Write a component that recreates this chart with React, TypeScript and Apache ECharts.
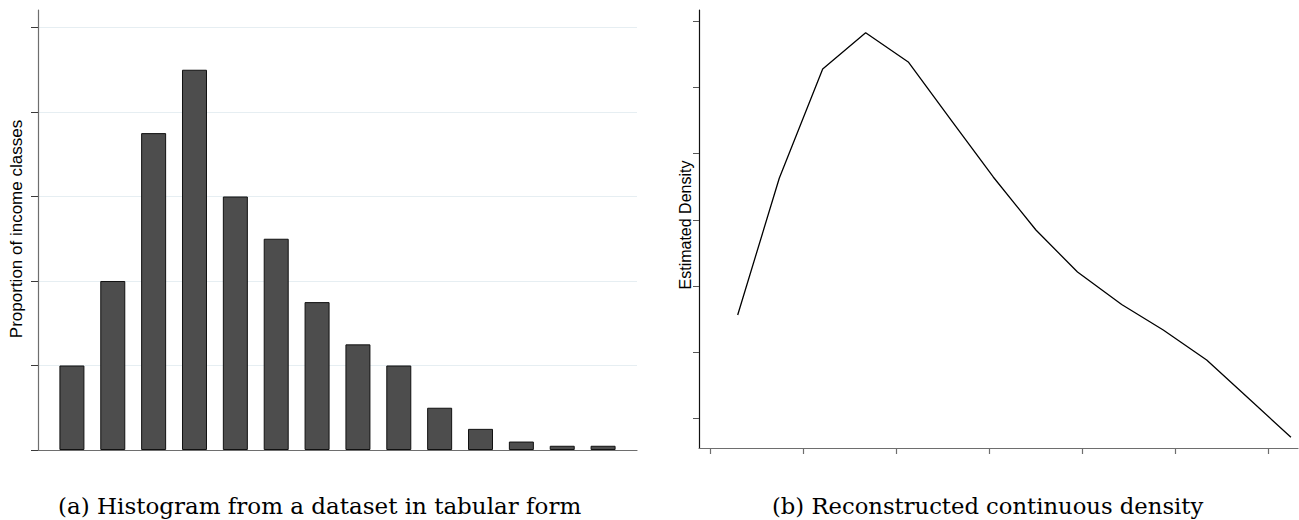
import React, { useEffect, useRef } from "react";
import * as echarts from "echarts";

// Panel (a): histogram of income classes (units of one y tick)
const histClasses = [1, 2, 3, 4, 5, 6, 7, 8, 9, 10, 11, 12, 13, 14];
const histValues = [1.0, 2.0, 3.75, 4.5, 3.0, 2.5, 1.75, 1.25, 1.0, 0.5, 0.25, 0.1, 0.05, 0.05];
const histTicks = [0, 1, 2, 3, 4, 5];
const histGrid = [1, 2, 3, 4, 5];

// Panel (b): reconstructed continuous density (x and y in tick units)
const densX = [0.298, 0.745, 1.212, 1.674, 2.132, 2.591, 3.046, 3.505, 3.952, 4.427, 4.874, 5.341, 5.796, 6.247];
const densY = [1.565, 3.627, 5.276, 5.824, 5.382, 4.507, 3.647, 2.847, 2.213, 1.723, 1.338, 0.886, 0.302, -0.281];
const densXTicks = [0, 1, 2, 3, 4, 5, 6];
const densYTicks = [0, 1, 2, 3, 4, 5, 6];

const leftYTitle = "Proportion of income classes";
const rightYTitle = "Estimated Density";
const captionA = "(a) Histogram from a dataset in tabular form";
const captionB = "(b) Reconstructed continuous density";

export default function App() {
  const ref = useRef<HTMLDivElement>(null);
  useEffect(() => {
    if (!ref.current) return;
    const chart = echarts.init(ref.current, undefined, { renderer: "svg" });
    const sans = "Liberation Sans, Arial, Helvetica, sans-serif";
    const serif = "DejaVu Serif, Liberation Serif, serif";
    chart.setOption({
      animation: false,
      backgroundColor: "#ffffff",
      grid: [
        { left: 38, top: 10, width: 599, height: 440 },
        { left: 699, top: 10, width: 599, height: 438 },
      ],
      xAxis: [
        {
          type: "value",
          gridIndex: 0,
          min: 0.17,
          max: 14.83,
          axisLine: { show: true, onZero: false, lineStyle: { color: "#6e6e6e", width: 1.2 } },
          axisTick: { show: false },
          axisLabel: { show: false },
          splitLine: { show: false },
        },
        {
          type: "value",
          gridIndex: 1,
          min: -0.118,
          max: 6.323,
          axisLine: { show: true, onZero: false, lineStyle: { color: "#6e6e6e", width: 1.2 } },
          axisTick: { show: true, inside: false, length: 6, customValues: densXTicks, lineStyle: { color: "#6e6e6e", width: 1.2 } },
          axisLabel: { show: false, customValues: densXTicks },
          splitLine: { show: false },
        },
      ],
      yAxis: [
        {
          type: "value",
          gridIndex: 0,
          min: 0,
          max: 5.207,
          axisLine: { show: true, onZero: false, lineStyle: { color: "#6e6e6e", width: 1.2 } },
          axisTick: { show: true, inside: false, length: 7, customValues: histTicks, lineStyle: { color: "#3a3a3a", width: 1 } },
          axisLabel: { show: false, customValues: histTicks },
          splitLine: { show: false },
        },
        {
          type: "value",
          gridIndex: 1,
          min: -0.442,
          max: 6.166,
          axisLine: { show: true, onZero: false, lineStyle: { color: "#111111", width: 1.2 } },
          axisTick: { show: true, inside: false, length: 6, customValues: densYTicks, lineStyle: { color: "#555555", width: 1 } },
          axisLabel: { show: false, customValues: densYTicks },
          splitLine: { show: false },
        },
      ],
      series: [
        {
          type: "bar",
          xAxisIndex: 0,
          yAxisIndex: 0,
          barWidth: 25,
          data: histClasses.map((c, i) => [c, histValues[i]]),
          itemStyle: { color: "#4d4d4d", borderColor: "#111111", borderWidth: 1 },
          markLine: {
            silent: true,
            symbol: "none",
            label: { show: false },
            lineStyle: { color: "#e6eef2", type: "solid", width: 1 },
            z: 0,
            data: histGrid.map((v) => ({ yAxis: v })),
          },
          z: 2,
        },
        {
          type: "line",
          xAxisIndex: 1,
          yAxisIndex: 1,
          showSymbol: false,
          symbol: "none",
          data: densX.map((x, i) => [x, densY[i]]),
          lineStyle: { color: "#000000", width: 1.3 },
        },
      ],
      graphic: [
        {
          type: "text",
          x: 16,
          y: 229,
          rotation: Math.PI / 2,
          style: { text: leftYTitle, font: "17px " + sans, fill: "#000", textAlign: "center", textVerticalAlign: "middle" },
        },
        {
          type: "text",
          x: 685,
          y: 225,
          rotation: Math.PI / 2,
          style: { text: rightYTitle, font: "16px " + sans, fill: "#000", textAlign: "center", textVerticalAlign: "middle" },
        },
        {
          type: "text",
          x: 58,
          y: 506,
          style: { text: captionA, font: "23px " + serif, fill: "#000", textAlign: "left", textVerticalAlign: "middle" },
        },
        {
          type: "text",
          x: 772,
          y: 506,
          style: { text: captionB, font: "22.7px " + serif, fill: "#000", textAlign: "left", textVerticalAlign: "middle" },
        },
      ],
    });
    return () => chart.dispose();
  }, []);
  return (
    <div
      ref={ref}
      style={{ position: "fixed", left: 0, top: 0, width: 1299, height: 520, background: "#fff" }}
    />
  );
}
